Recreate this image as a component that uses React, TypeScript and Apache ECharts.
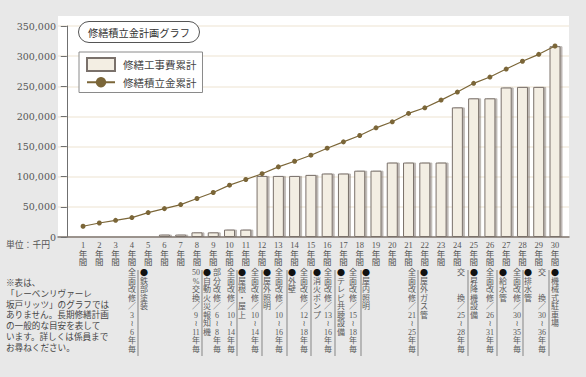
import React, { useEffect, useRef } from 'react';
import * as echarts from 'echarts';

// ---- data ----
const yearLabels = [
  '1年間', '2年間', '3年間', '4年間', '5年間', '6年間', '7年間', '8年間', '9年間', '10年間',
  '11年間', '12年間', '13年間', '14年間', '15年間', '16年間', '17年間', '18年間', '19年間', '20年間',
  '21年間', '22年間', '23年間', '24年間', '25年間', '26年間', '27年間', '28年間', '29年間', '30年間',
];
// 修繕工事費累計 (千円)
const repairCost = [
  0, 0, 0, 800, 800, 4000, 4000, 7700, 7700, 12300,
  12300, 101300, 101300, 101300, 103000, 105300, 105300, 110000, 110000, 123500,
  123500, 123500, 123500, 215000, 230000, 230000, 248000, 249000, 249000, 316500,
];
// 修繕積立金累計 (千円)
const reserveFund = [
  17800, 23200, 27700, 32200, 40500, 47100, 53800, 63800, 73800, 86000,
  95400, 105000, 116300, 125700, 135700, 147300, 157800, 168400, 181100, 191100,
  205000, 214300, 227100, 240400, 254900, 265300, 278600, 291500, 303000, 316800,
];
const seriesNames = ['修繕工事費累計', '修繕積立金累計'];
const chartTitle = '修繕積立金計画グラフ';
const unitLabel = '単位：千円';
const noteLines = [
  '※表は、',
  '「レーベンリヴァーレ',
  '坂戸リッツ」のグラフでは',
  'ありません。長期修繕計画',
  'の一般的な目安を表して',
  'います。詳しくは係員まで',
  'お尋ねください。',
];
const annotations = [
  '全面改修／3～6年毎', '●鉄部塗装',
  '50%交換／9～11年毎', '●自動火災報知機', '部分改修／6～8年毎', '全面改修／10～14年毎', '●屋根・屋上',
  '全面改修／10～14年毎', '●屋外照明',
  '全面改修／10～16年毎', '●外壁',
  '全面改修／12～18年毎', '●消火ポンプ',
  '全面改修／13～16年毎', '●テレビ共聴設備',
  '全面改修／15～18年毎', '●屋内照明',
  '全面改修／21～25年毎', '●屋外ガス管',
  '交　　換／25～28年毎', '●昇降機設備',
  '全面改修／26～31年毎', '●給水管',
  '全面改修／30～35年毎', '●排水管',
  '交　　換／30～36年毎', '●機械式駐車場',
];

// ---- layout (pixels) ----
const annotationX = [132, 144, 196, 207, 217, 231, 242, 255, 267, 279, 292, 304, 317, 328, 341, 353, 366, 412, 424, 461, 474, 490, 503, 517, 528, 542, 555];
const dividerX = [138, 202, 237, 262, 287, 311, 335, 361, 418, 468, 497, 523, 549];

const SERIF = "'DejaVu Serif', 'Noto Sans CJK JP', sans-serif";
const JP = "'Noto Sans CJK JP', sans-serif";
const MIX = "'Liberation Serif', 'Noto Sans CJK JP', 'DejaVu Sans', sans-serif";

function tokens(s: string): string[] {
  const m = s.match(/\d+|./gu) || [];
  return m.map((t) => (t === '～' ? '≀' : t));
}

export default function App() {
  const ref = useRef<HTMLDivElement>(null);
  useEffect(() => {
    if (!ref.current) return;
    const chart = echarts.init(ref.current, null, { renderer: 'svg' });

    const graphics: any[] = [
      {
        type: 'rect', z: -100, silent: true,
        shape: { x: 58, y: 16, width: 511, height: 221 },
        style: { fill: '#ffffff' },
      },
      {
        type: 'text', x: 6, y: 244,
        style: { text: unitLabel, fontSize: 8.8, fontFamily: JP, fill: '#555', verticalAlign: 'middle', textVerticalAlign: 'middle' },
      },
      {
        type: 'text', x: 6, y: 276.5,
        style: { text: noteLines.join('\n'), fontSize: 8.6, lineHeight: 10.8, fontFamily: JP, fill: '#444' },
      },
    ];
    dividerX.forEach((x) => {
      graphics.push({
        type: 'line', silent: true,
        shape: { x1: x, y1: 270, x2: x, y2: 356 },
        style: { stroke: '#9c9c9c', lineWidth: 1.3 },
      });
    });
    annotations.forEach((s, i) => {
      const x = annotationX[i];
      const tk = tokens(s);
      const lines = tk.map((t) => (t === '●' ? '{b|●}' : t));
      graphics.push({
        type: 'text', x, y: 268.5,
        style: {
          text: lines.join('\n'),
          fontSize: 8,
          lineHeight: 8.5,
          fontFamily: MIX,
          fill: '#5a5a5a',
          align: 'center',
          textAlign: 'center',
          rich: {
            b: { fontSize: 8, lineHeight: 8.5, fill: '#111', fontFamily: JP },
          },
        },
      });
    });

    chart.setOption({
      animation: false,
      backgroundColor: '#e8e8e8',
      title: {
        text: chartTitle,
        left: 78, top: 21,
        padding: [6, 10],
        borderRadius: 13,
        borderColor: '#555',
        borderWidth: 1,
        backgroundColor: '#fff',
        textStyle: { fontSize: 10.2, fontWeight: 'normal', color: '#333', fontFamily: JP },
      },
      legend: {
        left: 79, top: 52,
        orient: 'vertical',
        padding: [5, 6, 5, 7],
        itemGap: 5,
        itemWidth: 28,
        itemHeight: 13,
        backgroundColor: '#fff',
        borderColor: '#8a8a8a',
        borderWidth: 1,
        textStyle: { fontSize: 10.5, color: '#444', fontFamily: JP, padding: [0, 0, 0, 3] },
        data: [{ name: seriesNames[0], icon: 'rect' }, { name: seriesNames[1] }],
      },
      grid: { left: 58, right: 17, top: 26, bottom: 140 },
      xAxis: {
        type: 'value',
        min: -0.54,
        max: 30.86,
        axisLine: { show: true, onZero: false, lineStyle: { color: '#7d7570', width: 1.5 } },
        axisTick: { show: false },
        splitLine: { show: false },
        axisLabel: {
          customValues: yearLabels.map((_, i) => i + 1),
          formatter: (v: number) => {
            const lab = yearLabels[Math.round(v) - 1];
            return lab ? lab.replace('年間', '\n年\n間') : '';
          },
          margin: 4,
          fontSize: 8.5,
          lineHeight: 8.5,
          color: '#555',
          fontFamily: MIX,
        },
      },
      yAxis: {
        type: 'value',
        min: 0,
        max: 350000,
        interval: 50000,
        axisLine: { show: true, lineStyle: { color: '#707070', width: 1 } },
        axisTick: { show: true, length: 6, lineStyle: { color: '#707070' } },
        axisLabel: {
          margin: 2,
          fontSize: 9.5,
          color: '#555',
          fontFamily: SERIF,
          formatter: (v: number) => v.toLocaleString('en-US'),
        },
        splitLine: { show: true, lineStyle: { color: '#f3ece1', width: 1.5 } },
      },
      graphic: graphics,
      series: [
        {
          name: seriesNames[0],
          type: 'bar',
          data: repairCost.map((v, i) => [i + 1, v]),
          barWidth: 11,
          itemStyle: {
            color: '#f3eee3',
            borderColor: '#7a716b',
            borderWidth: 1,
            shadowColor: 'rgba(110,100,90,0.45)',
            shadowOffsetX: 2,
            shadowBlur: 0,
          },
          z: 2,
        },
        {
          name: seriesNames[1],
          type: 'line',
          data: reserveFund.map((v, i) => [i + 1, v]),
          symbol: 'circle',
          symbolSize: 5,
          lineStyle: { color: '#7b6638', width: 1.2 },
          itemStyle: { color: '#7b6638' },
          z: 3,
        },
      ],
    });
    return () => chart.dispose();
  }, []);
  return (
    <div
      ref={ref}
      style={{ position: 'fixed', left: 0, top: 0, width: 586, height: 377 }}
    />
  );
}
